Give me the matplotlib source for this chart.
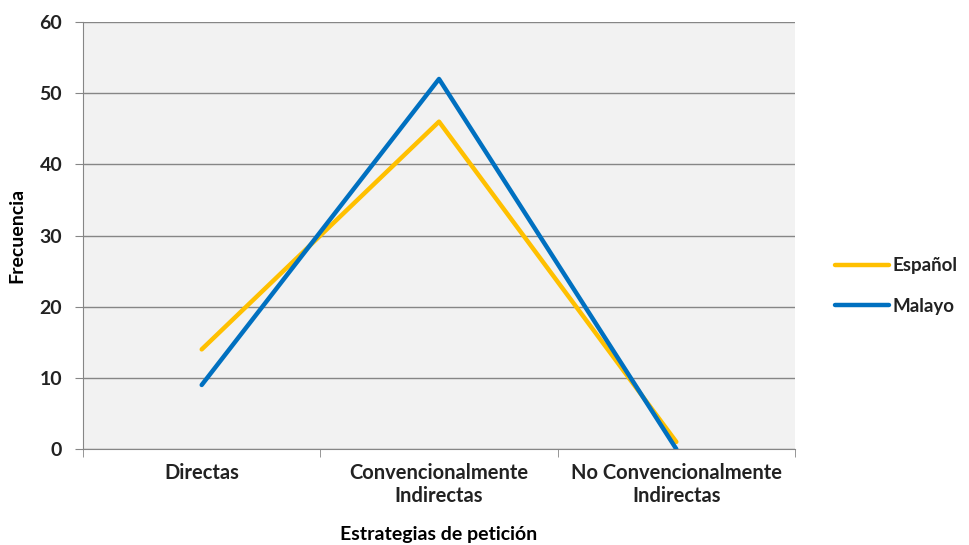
import matplotlib
matplotlib.use("Agg")
import matplotlib.pyplot as plt

plt.rcParams['font.family'] = ['Lato', 'DejaVu Sans']

categories = ["Directas", "Convencionalmente\nIndirectas", "No Convencionalmente\nIndirectas"]
espanol = [14, 46, 1]
malayo = [9, 52, 0]

fig = plt.figure(figsize=(9.69, 5.45), dpi=100)
ax = fig.add_axes([0.0857, 0.1761, 0.7347, 0.7835])
ax.set_facecolor('#F2F2F2')

x = range(len(categories))
ax.plot(x, espanol, color='#FFC000', lw=3.2, solid_capstyle='round', label='Español', zorder=3)
ax.plot(x, malayo, color='#0070C0', lw=3.2, solid_capstyle='round', label='Malayo', zorder=4)

ax.set_xlim(-0.5, 2.5)
ax.set_ylim(0, 60)
ax.set_yticks(range(0, 61, 10))
ax.set_xticks(x)
ax.set_xticklabels(categories, fontsize=14.5, fontweight='bold', color='#222222', linespacing=1.2)
ax.tick_params(axis='x', length=0, pad=10)
ax.set_xticks([-0.5, 0.5, 1.5, 2.5], minor=True)
ax.tick_params(axis='x', which='minor', length=6, color='#868686')
ax.tick_params(axis='y', length=6, color='#868686', labelsize=14, pad=9)
for lab in ax.get_yticklabels():
    lab.set_fontweight('bold')
    lab.set_color('#222222')

ax.grid(axis='y', color='#868686', lw=1)
ax.set_axisbelow(True)
for s in ['top', 'right']:
    ax.spines[s].set_visible(False)
for s in ['left', 'bottom']:
    ax.spines[s].set_color('#868686')

ax.set_xlabel('Estrategias de petición', fontsize=14, fontweight='bold', labelpad=14)
ax.set_ylabel('Frecuencia', fontsize=14, fontweight='bold', labelpad=10)

leg = ax.legend(loc='center left', bbox_to_anchor=(1.056, 0.382), frameon=False,
                borderaxespad=0, borderpad=0,
                fontsize=13.5, handlelength=2.9, handletextpad=0.15, labelspacing=1.25)
for t in leg.get_texts():
    t.set_fontweight('bold')
    t.set_color('#222222')

fig.savefig('out.png', dpi=100)
